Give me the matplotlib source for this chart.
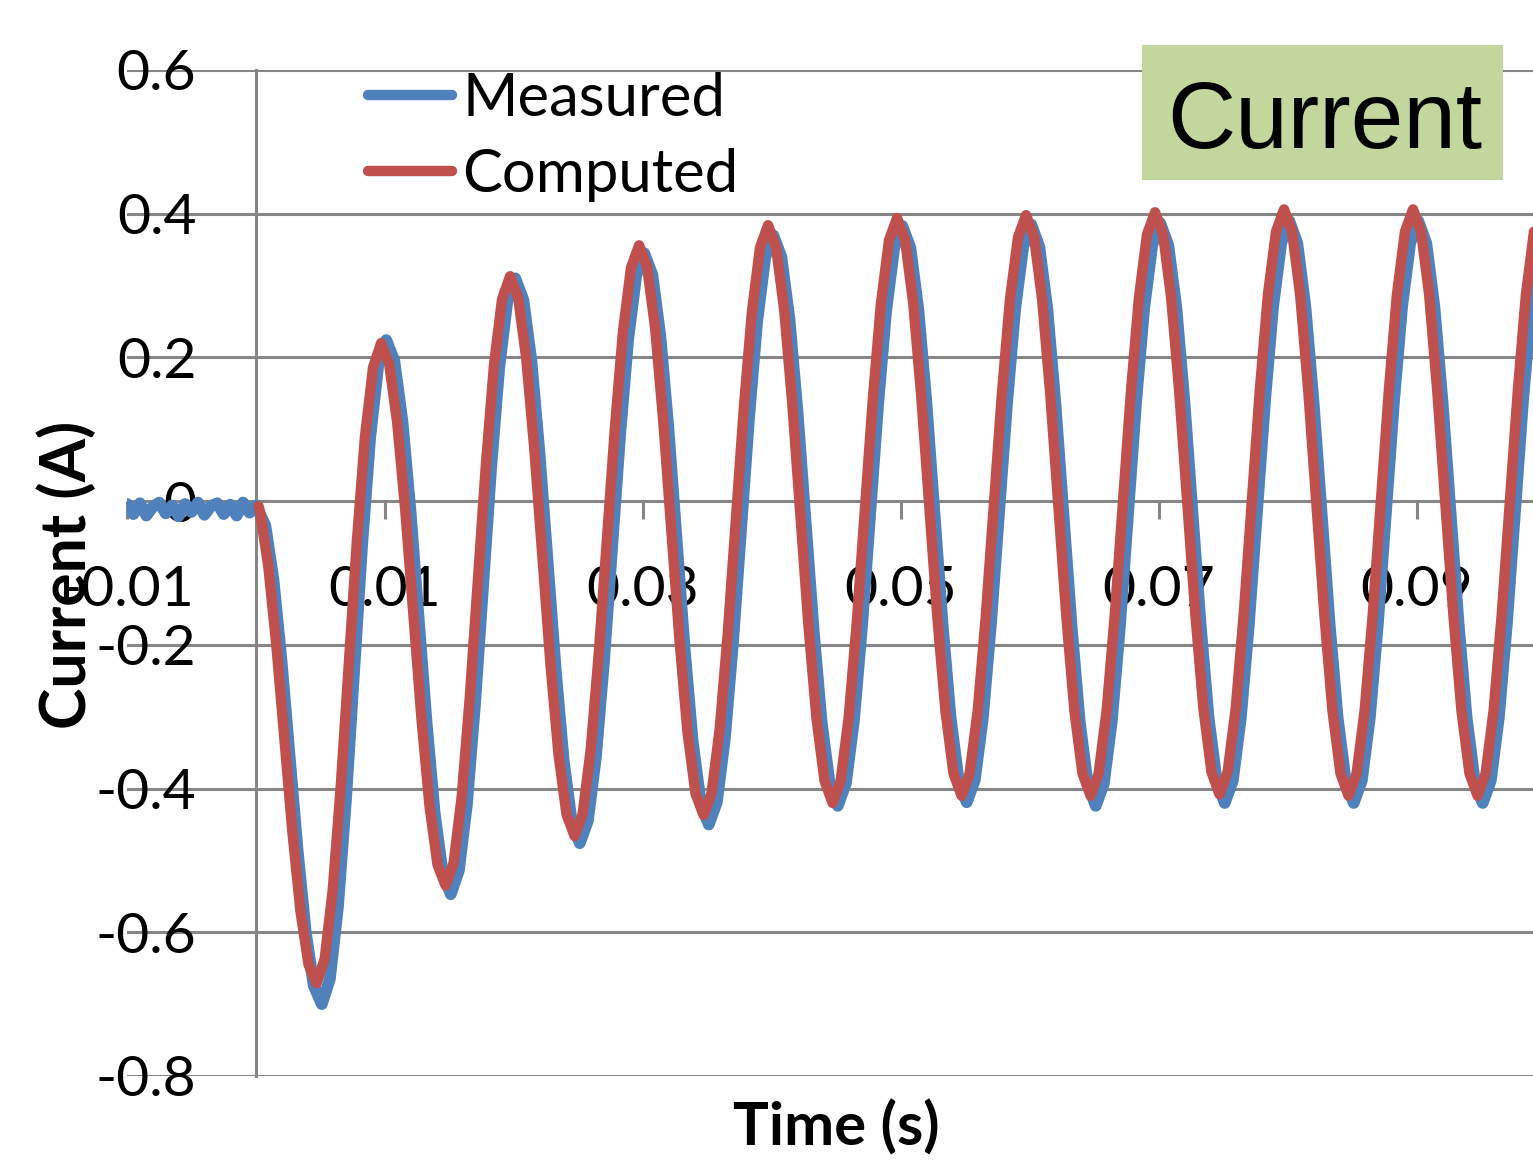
import numpy as np
import matplotlib.pyplot as plt
from matplotlib.patches import Rectangle

# ---- data (time in ms, current in A) ----
t_measured_ms = [
    -10.0, -9.5, -9.0, -8.5, -8.0, -7.5, -7.0, -6.5, -6.0, -5.5, -5.0,
    -4.5, -4.0, -3.5, -3.0, -2.5, -2.0, -1.5, -1.0, -0.5, 0.0,
    0.725, 1.35, 1.975, 2.6, 3.225, 3.85, 4.475, 5.1,
    5.725, 6.35, 6.975, 7.6, 8.225, 8.85, 9.475, 10.1,
    10.725, 11.35, 11.975, 12.6, 13.225, 13.85, 14.475, 15.1,
    15.725, 16.35, 16.975, 17.6, 18.225, 18.85, 19.475, 20.1,
    20.725, 21.35, 21.975, 22.6, 23.225, 23.85, 24.475, 25.1,
    25.725, 26.35, 26.975, 27.6, 28.225, 28.85, 29.475, 30.1,
    30.725, 31.35, 31.975, 32.6, 33.225, 33.85, 34.475, 35.1,
    35.725, 36.35, 36.975, 37.6, 38.225, 38.85, 39.475, 40.1,
    40.725, 41.35, 41.975, 42.6, 43.225, 43.85, 44.475, 45.1,
    45.725, 46.35, 46.975, 47.6, 48.225, 48.85, 49.475, 50.1,
    50.725, 51.35, 51.975, 52.6, 53.225, 53.85, 54.475, 55.1,
    55.725, 56.35, 56.975, 57.6, 58.225, 58.85, 59.475, 60.1,
    60.725, 61.35, 61.975, 62.6, 63.225, 63.85, 64.475, 65.1,
    65.725, 66.35, 66.975, 67.6, 68.225, 68.85, 69.475, 70.1,
    70.725, 71.35, 71.975, 72.6, 73.225, 73.85, 74.475, 75.1,
    75.725, 76.35, 76.975, 77.6, 78.225, 78.85, 79.475, 80.1,
    80.725, 81.35, 81.975, 82.6, 83.225, 83.85, 84.475, 85.1,
    85.725, 86.35, 86.975, 87.6, 88.225, 88.85, 89.475, 90.1,
    90.725, 91.35, 91.975, 92.6, 93.225, 93.85, 94.475, 95.1,
    95.725, 96.35, 96.975, 97.6, 98.225, 98.85, 99.475, 100.1,
    100.725,
]
i_measured = [
    -0.004, -0.018, -0.003, -0.020, -0.008, -0.002, -0.017, -0.006, -0.021, -0.004, -0.015,
    -0.002, -0.019, -0.007, -0.003, -0.018, -0.005, -0.020, -0.002, -0.016, -0.006,
    -0.034, -0.109, -0.222, -0.354, -0.486, -0.599, -0.674, -0.700,
    -0.665, -0.565, -0.415, -0.238, -0.061, 0.089, 0.189, 0.224,
    0.195, 0.111, -0.014, -0.162, -0.309, -0.434, -0.518, -0.547,
    -0.514, -0.422, -0.283, -0.119, 0.046, 0.185, 0.277, 0.310,
    0.280, 0.195, 0.067, -0.083, -0.233, -0.361, -0.446, -0.476,
    -0.445, -0.356, -0.223, -0.066, 0.092, 0.225, 0.314, 0.345,
    0.315, 0.229, 0.100, -0.053, -0.205, -0.334, -0.420, -0.450,
    -0.419, -0.330, -0.197, -0.040, 0.117, 0.250, 0.339, 0.370,
    0.340, 0.254, 0.125, -0.027, -0.179, -0.308, -0.394, -0.424,
    -0.393, -0.306, -0.175, -0.021, 0.134, 0.265, 0.352, 0.383,
    0.353, 0.266, 0.136, -0.018, -0.172, -0.302, -0.389, -0.419,
    -0.388, -0.301, -0.171, -0.017, 0.137, 0.267, 0.354, 0.385,
    0.354, 0.267, 0.135, -0.020, -0.174, -0.306, -0.393, -0.424,
    -0.393, -0.305, -0.174, -0.019, 0.137, 0.268, 0.356, 0.387,
    0.356, 0.269, 0.138, -0.017, -0.171, -0.302, -0.389, -0.420,
    -0.389, -0.301, -0.170, -0.015, 0.140, 0.271, 0.359, 0.390,
    0.359, 0.271, 0.140, -0.015, -0.170, -0.301, -0.389, -0.420,
    -0.389, -0.301, -0.170, -0.015, 0.140, 0.271, 0.359, 0.390,
    0.359, 0.271, 0.140, -0.015, -0.170, -0.301, -0.389, -0.420,
    -0.389, -0.301, -0.170, -0.015, 0.140, 0.271, 0.359, 0.390,
    0.359,
]

t_computed_ms = [
    0.2,
    0.325, 0.95, 1.575, 2.2, 2.825, 3.45, 4.075, 4.7,
    5.325, 5.95, 6.575, 7.2, 7.825, 8.45, 9.075, 9.7,
    10.325, 10.95, 11.575, 12.2, 12.825, 13.45, 14.075, 14.7,
    15.325, 15.95, 16.575, 17.2, 17.825, 18.45, 19.075, 19.7,
    20.325, 20.95, 21.575, 22.2, 22.825, 23.45, 24.075, 24.7,
    25.325, 25.95, 26.575, 27.2, 27.825, 28.45, 29.075, 29.7,
    30.325, 30.95, 31.575, 32.2, 32.825, 33.45, 34.075, 34.7,
    35.325, 35.95, 36.575, 37.2, 37.825, 38.45, 39.075, 39.7,
    40.325, 40.95, 41.575, 42.2, 42.825, 43.45, 44.075, 44.7,
    45.325, 45.95, 46.575, 47.2, 47.825, 48.45, 49.075, 49.7,
    50.325, 50.95, 51.575, 52.2, 52.825, 53.45, 54.075, 54.7,
    55.325, 55.95, 56.575, 57.2, 57.825, 58.45, 59.075, 59.7,
    60.325, 60.95, 61.575, 62.2, 62.825, 63.45, 64.075, 64.7,
    65.325, 65.95, 66.575, 67.2, 67.825, 68.45, 69.075, 69.7,
    70.325, 70.95, 71.575, 72.2, 72.825, 73.45, 74.075, 74.7,
    75.325, 75.95, 76.575, 77.2, 77.825, 78.45, 79.075, 79.7,
    80.325, 80.95, 81.575, 82.2, 82.825, 83.45, 84.075, 84.7,
    85.325, 85.95, 86.575, 87.2, 87.825, 88.45, 89.075, 89.7,
    90.325, 90.95, 91.575, 92.2, 92.825, 93.45, 94.075, 94.7,
    95.325, 95.95, 96.575, 97.2, 97.825, 98.45, 99.075, 99.7,
    100.325,
]
i_computed = [
    -0.007,
    -0.016, -0.090, -0.200, -0.331, -0.461, -0.571, -0.645, -0.671,
    -0.637, -0.541, -0.396, -0.226, -0.055, 0.090, 0.186, 0.220,
    0.191, 0.109, -0.013, -0.158, -0.302, -0.424, -0.506, -0.535,
    -0.503, -0.411, -0.273, -0.111, 0.051, 0.189, 0.281, 0.313,
    0.283, 0.199, 0.073, -0.077, -0.226, -0.352, -0.436, -0.466,
    -0.435, -0.346, -0.212, -0.055, 0.102, 0.236, 0.325, 0.356,
    0.326, 0.240, 0.111, -0.041, -0.192, -0.321, -0.407, -0.437,
    -0.406, -0.317, -0.184, -0.027, 0.131, 0.264, 0.353, 0.384,
    0.353, 0.266, 0.136, -0.018, -0.172, -0.302, -0.389, -0.420,
    -0.389, -0.301, -0.169, -0.013, 0.143, 0.275, 0.363, 0.394,
    0.363, 0.276, 0.146, -0.008, -0.162, -0.292, -0.379, -0.410,
    -0.379, -0.292, -0.161, -0.006, 0.149, 0.280, 0.367, 0.398,
    0.367, 0.280, 0.149, -0.006, -0.161, -0.292, -0.379, -0.410,
    -0.379, -0.291, -0.159, -0.004, 0.151, 0.283, 0.371, 0.402,
    0.371, 0.283, 0.152, -0.003, -0.158, -0.289, -0.377, -0.408,
    -0.377, -0.289, -0.157, -0.001, 0.155, 0.287, 0.375, 0.406,
    0.375, 0.287, 0.154, -0.002, -0.158, -0.291, -0.379, -0.410,
    -0.379, -0.291, -0.158, -0.002, 0.154, 0.287, 0.375, 0.406,
    0.375, 0.287, 0.154, -0.002, -0.158, -0.291, -0.379, -0.410,
    -0.379, -0.291, -0.158, -0.002, 0.154, 0.287, 0.375, 0.406,
    0.375,
]

x_ticks = [-0.01, 0.01, 0.03, 0.05, 0.07, 0.09]
x_ticklabels = ["-0.01", "0.01", "0.03", "0.05", "0.07", "0.09"]
y_ticks = [-0.8, -0.6, -0.4, -0.2, 0, 0.2, 0.4, 0.6]
y_ticklabels = ["-0.8", "-0.6", "-0.4", "-0.2", "0", "0.2", "0.4", "0.6"]

# ---- plot ----
W, H = 1533, 1161
grey = "#868686"
plt.rcParams["font.family"] = ["Lato", "DejaVu Sans"]

fig = plt.figure(figsize=(W / 100, H / 100), dpi=100)
ax = fig.add_axes([127 / W, 1 - 1076 / H, (W - 127) / W, (1076 - 70) / H])

ax.plot(np.array(t_measured_ms) / 1000, i_measured, color="#4F81BD", lw=8.5,
        solid_joinstyle="round", solid_capstyle="round", label="Measured", zorder=3)
ax.plot(np.array(t_computed_ms) / 1000, i_computed, color="#C0504D", lw=7.5,
        solid_joinstyle="round", solid_capstyle="round", label="Computed", zorder=4)

ax.set_xlim(-0.01, 0.099)
ax.set_ylim(-0.8, 0.6)

ax.set_yticks(y_ticks)
ax.set_yticklabels(y_ticklabels)
ax.set_xticks(x_ticks)
ax.set_xticklabels(x_ticklabels)

ax.grid(axis="y", color=grey, lw=2.2)
ax.set_axisbelow(True)

for s in ["top", "right"]:
    ax.spines[s].set_visible(False)
ax.spines["left"].set_position(("data", 0))
ax.spines["left"].set_color(grey)
ax.spines["left"].set_linewidth(2.2)
ax.spines["bottom"].set_position(("data", 0))
ax.spines["bottom"].set_visible(False)

ax.tick_params(axis="y", length=0, pad=43, labelsize=41)
ax.tick_params(axis="x", direction="out", length=13, width=2.2, color=grey,
               pad=33, labelsize=41)

fig.text(67 / W, 1 - 575 / H, "Current (A)", rotation=90, ha="center", va="center",
         fontsize=45, fontweight="bold")
fig.text(836 / W, 1 - 1128 / H, "Time (s)", ha="center", va="center",
         fontsize=43, fontweight="bold")

leg = ax.legend(loc="upper left", bbox_to_anchor=(368 / W, 1 - 72 / H),
                bbox_transform=fig.transFigure, frameon=False, fontsize=43,
                handlelength=1.41, handletextpad=0.17, labelspacing=0.37,
                borderpad=0, borderaxespad=0)
for line in leg.get_lines():
    line.set_linewidth(7.5)

fig.add_artist(Rectangle((1142 / W, 1 - 180 / H), 361 / W, 135 / H,
                         transform=fig.transFigure, facecolor="#C3D69B",
                         edgecolor="none", zorder=5))
fig.text(1324.5 / W, 1 - 148 / H, "Current", ha="center", va="baseline",
         fontsize=68, family="Liberation Sans", zorder=6)

fig.savefig("out.png", dpi=100)
